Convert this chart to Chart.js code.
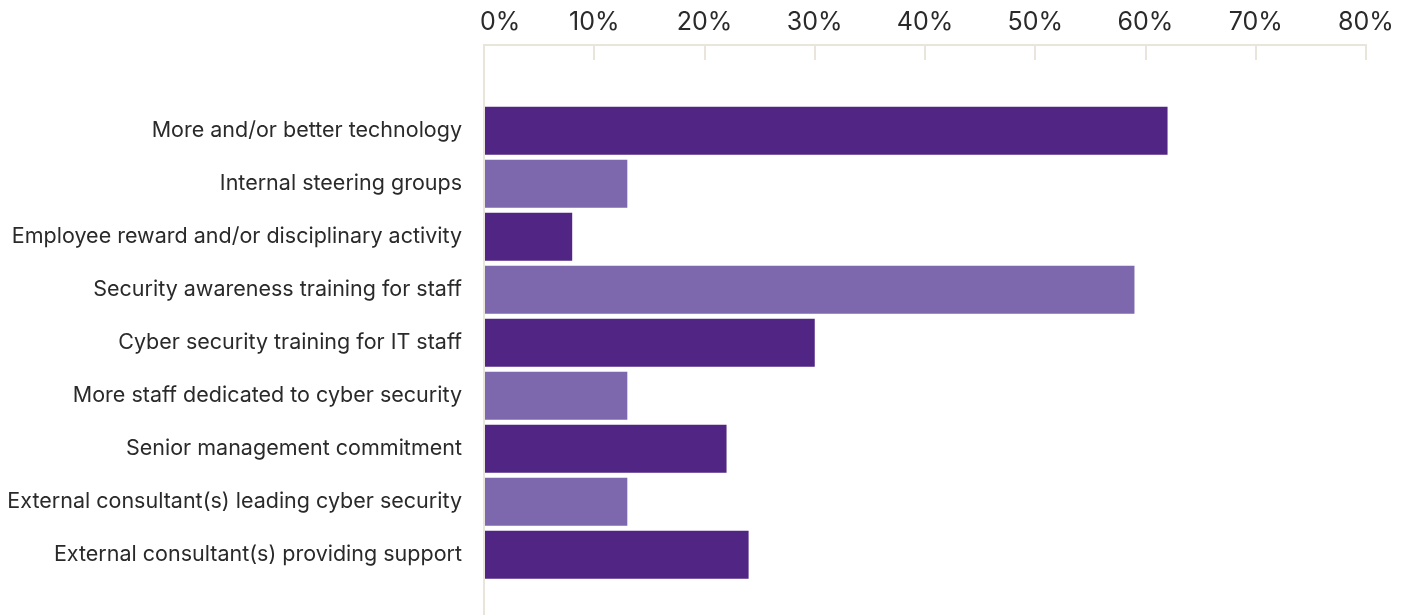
<!DOCTYPE html>
<html>
<head>
<meta charset="utf-8">
<script src="https://cdn.jsdelivr.net/npm/chart.js@4/dist/chart.umd.min.js"></script>
<style>
  html, body { margin: 0; padding: 0; background: #ffffff; }
  #wrap { width: 1407px; height: 615px; }
</style>
</head>
<body>
<div id="wrap"><canvas id="myChart"></canvas></div>
<script>
// measures, top to bottom
const categories = [
  'More and/or better technology',
  'Internal steering groups',
  'Employee reward and/or disciplinary activity',
  'Security awareness training for staff',
  'Cyber security training for IT staff',
  'More staff dedicated to cyber security',
  'Senior management commitment',
  'External consultant(s) leading cyber security',
  'External consultant(s) providing support'
];
const shares = [62, 13, 8, 59, 30, 13, 22, 13, 24];
const xTicks = [0, 10, 20, 30, 40, 50, 60, 70, 80];

const darkPurple = '#512583';
const lightPurple = '#7d68ad';
const beige = '#e9e5da';
const textColor = '#2a2a2a';

// bars alternate dark / light
const barColors = categories.map((_, i) => i % 2 === 0 ? darkPurple : lightPurple);

const ctx = document.getElementById('myChart').getContext('2d');
window.myChart = new Chart(ctx, {
  type: 'bar',
  data: {
    datasets: [{
      data: shares.map((v, i) => ({ x: v, y: i })),
      backgroundColor: barColors,
      borderWidth: 0,
      barPercentage: 0.906,
      categoryPercentage: 1
    }]
  },
  options: {
    indexAxis: 'y',
    responsive: true,
    maintainAspectRatio: false,
    animation: false,
    layout: { padding: { left: 0, right: 41, top: 0, bottom: 0 } },
    plugins: {
      legend: { display: false },
      tooltip: { enabled: false }
    },
    scales: {
      x: {
        type: 'linear',
        position: 'top',
        bounds: 'data',
        min: 0,
        max: 80,
        afterBuildTicks: (scale) => { scale.ticks = xTicks.map(v => ({ value: v })); },
        afterFit: (scale) => {
          scale.height = 45;
          scale.paddingLeft = 0;
          scale.paddingRight = 0;
        },
        border: { display: true, color: beige, width: 2 },
        grid: {
          drawOnChartArea: false,
          drawTicks: true,
          tickLength: -15,   // short marks hanging down from the axis line
          color: beige,
          lineWidth: 2
        },
        ticks: {
          padding: 23,
          color: textColor,
          font: { family: 'Inter', size: 25 },
          // nudge the 0% label clear of the axis line
          callback: (v) => (v === 0 ? '\u2007\u2007' : '') + v + '%'
        }
      },
      y: {
        type: 'linear',
        reverse: true,
        offset: false,
        bounds: 'data',
        min: -1.617,
        max: 9.138,
        afterBuildTicks: (scale) => { scale.ticks = categories.map((_, i) => ({ value: i })); },
        afterFit: (scale) => {
          scale.width = 484;
          // let the axis run to the bottom edge
          scale.paddingTop = 0;
          scale.paddingBottom = 0;
        },
        border: { display: true, color: beige, width: 2 },
        grid: { display: false, drawTicks: false },
        ticks: {
          padding: 22,
          color: textColor,
          font: { family: 'Inter', size: 21.5 },
          callback: (v) => categories[v]
        }
      }
    }
  }
});
</script>
</body>
</html>
